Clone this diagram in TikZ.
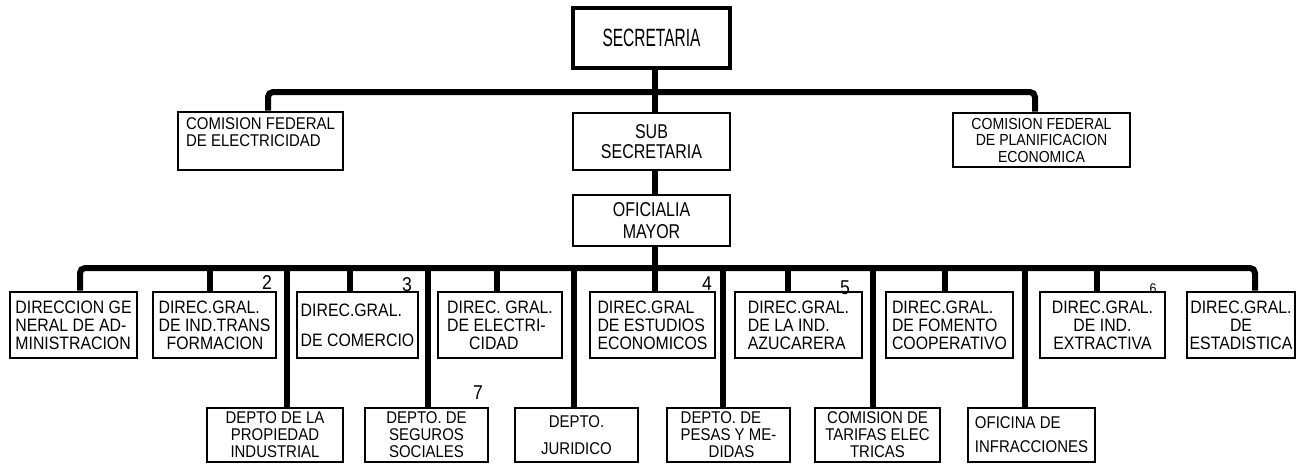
\documentclass[tikz,border=0pt]{standalone}
\usepackage{fontspec}
\setmainfont{Liberation Sans}[FakeStretch=0.88]
\newfontfamily\fsecr{Liberation Sans}[FakeStretch=0.62]
\newfontfamily\fsubs{Liberation Sans}[FakeStretch=0.8]
\newcommand\rowfont{\fontsize{18}{18}\selectfont}
\newcommand\lowfont{\fontsize{17}{17}\selectfont}
\begin{document}
\begin{tikzpicture}[x=1pt,y=-1pt,
  conn/.style={line width=6pt},
  bx/.style={draw, line width=2.6pt, inner sep=0pt, align=left},
  rowbox/.style={bx, minimum height=66pt, font=\rowfont},
  lowbox/.style={bx, minimum height=54pt, font=\lowfont},
  num/.style={inner sep=0pt, font=\fontsize{20}{20}\selectfont}]
\useasboundingbox (0,0) rectangle (1297,464);

% top level
\node[bx, line width=4.5pt, minimum width=157pt, minimum height=60pt, font=\fsecr\fontsize{25}{25}\selectfont] (sec) at (651.5,38) {SECRETARIA};
\node[bx, minimum width=157pt, minimum height=57pt, align=center, font=\fsubs\fontsize{20}{20}\selectfont] (sub) at (651.5,141.5) {SUB\\SECRETARIA};
\node[bx, line width=2.2pt, minimum width=157pt, minimum height=51pt, align=center, font=\fsubs\fontsize{20}{22}\selectfont] (ofi) at (651.5,220.5) {OFICIALIA\\MAYOR};
\node[bx, minimum width=165pt, minimum height=58pt, font=\fontsize{17}{17}\selectfont] (cfe) at (260.5,141) {COMISION FEDERAL\\DE ELECTRICIDAD\\\mbox{}};
\node[bx, minimum width=177pt, minimum height=54pt, align=center, font=\fontsize{16}{16.5}\selectfont] (cfp) at (1041.5,140) {COMISION FEDERAL\\DE PLANIFICACION\\ECONOMICA};

% second row
\node[rowbox, minimum width=127pt] (adm) at (73.5,325) {DIRECCION GE\\NERAL DE AD-\\MINISTRACION};
\node[rowbox, minimum width=123pt] (ind) at (214.5,325) {DIREC.GRAL.\\DE IND.TRANS\\\hspace*{8pt}FORMACION};
\node[rowbox, minimum width=121pt, font=\fontsize{18}{30}\selectfont] (com) at (357.5,325) {DIREC.GRAL.\\DE COMERCIO};
\node[rowbox, minimum width=124pt] (ele) at (500,325) {DIREC. GRAL.\\DE ELECTRI-\\\hspace*{22pt}CIDAD};
\node[rowbox, minimum width=125pt] (eco) at (652.5,325) {DIREC.GRAL\\DE ESTUDIOS\\ECONOMICOS};
\node[rowbox, minimum width=127pt] (azu) at (798.5,325) {DIREC.GRAL.\\DE LA IND.\\AZUCARERA};
\node[rowbox, minimum width=127pt] (fom) at (949.5,325) {DIREC.GRAL.\\DE FOMENTO\\COOPERATIVO};
\node[rowbox, minimum width=125pt, align=center] (ext) at (1102.5,325) {DIREC.GRAL.\\DE IND.\\EXTRACTIVA};
\node[rowbox, minimum width=108pt, align=center] (est) at (1241,325) {DIREC.GRAL.\\DE\\ESTADISTICA};

% third row
\node[lowbox, minimum width=136pt, align=center] (pro) at (275,435) {DEPTO DE LA\\PROPIEDAD\\INDUSTRIAL};
\node[lowbox, minimum width=123pt, align=center] (seg) at (426.5,435) {DEPTO. DE\\SEGUROS\\SOCIALES};
\node[lowbox, minimum width=123pt, align=center, font=\fontsize{17}{27}\selectfont] (jur) at (576.5,435) {DEPTO.\\JURIDICO};
\node[lowbox, minimum width=123pt] (pes) at (728.5,435) {DEPTO. DE\\PESAS Y ME-\\\hspace*{28pt}DIDAS};
\node[lowbox, minimum width=125pt, align=center] (tar) at (877.5,435) {COMISION DE\\TARIFAS ELEC\\TRICAS};
\node[lowbox, minimum width=127pt, font=\fontsize{17}{24}\selectfont] (ofc) at (1031.5,435) {OFICINA DE\\INFRACCIONES};

% numbers
\node[num] (n2) at (267,283) {2};
\node[num] (n3) at (407,285) {3};
\node[num] (n4) at (707,284) {4};
\node[num] (n5) at (845,288) {5};
\node[num, font=\fontsize{14}{14}\selectfont] (n6) at (1153,289) {6};
\node[num] (n7) at (478,393) {7};

% connector coordinates
\coordinate (sp) at (655,0);
\coordinate (t1) at (268,92);
\coordinate (t2) at (1035,92);
\coordinate (b1) at (80,268);
\coordinate (b2) at (210,268);
\coordinate (b3) at (350,268);
\coordinate (b4) at (497,268);
\coordinate (b6) at (788,268);
\coordinate (b7) at (945,268);
\coordinate (b8) at (1097,268);
\coordinate (b9) at (1255,268);
\coordinate (v1) at (287,268);
\coordinate (v2) at (428,268);
\coordinate (v3) at (574,268);
\coordinate (v4) at (723,268);
\coordinate (v5) at (873,268);
\coordinate (v6) at (1025,268);

% spine
\draw[conn] (sec.south -| sp) -- (sub.north -| sp);
\draw[conn] (sub.south -| sp) -- (ofi.north -| sp);
\draw[conn] (ofi.south -| sp) -- (eco.north -| sp);

% top bus
\draw[conn, rounded corners=5pt] (cfe.north -| t1) |- (t2) -- (t2 |- cfp.north);

% second bus
\draw[conn, rounded corners=5pt] (adm.north -| b1) |- (b9) -- (b9 |- est.north);
\draw[conn] (b2) -- (b2 |- ind.north);
\draw[conn] (b3) -- (b3 |- com.north);
\draw[conn] (b4) -- (b4 |- ele.north);
\draw[conn] (b6) -- (b6 |- azu.north);
\draw[conn] (b7) -- (b7 |- fom.north);
\draw[conn] (b8) -- (b8 |- ext.north);

% verticals to third row
\draw[conn] (v1) -- (v1 |- pro.north);
\draw[conn] (v2) -- (v2 |- seg.north);
\draw[conn] (v3) -- (v3 |- jur.north);
\draw[conn] (v4) -- (v4 |- pes.north);
\draw[conn] (v5) -- (v5 |- tar.north);
\draw[conn] (v6) -- (v6 |- ofc.north);
\end{tikzpicture}
\end{document}
